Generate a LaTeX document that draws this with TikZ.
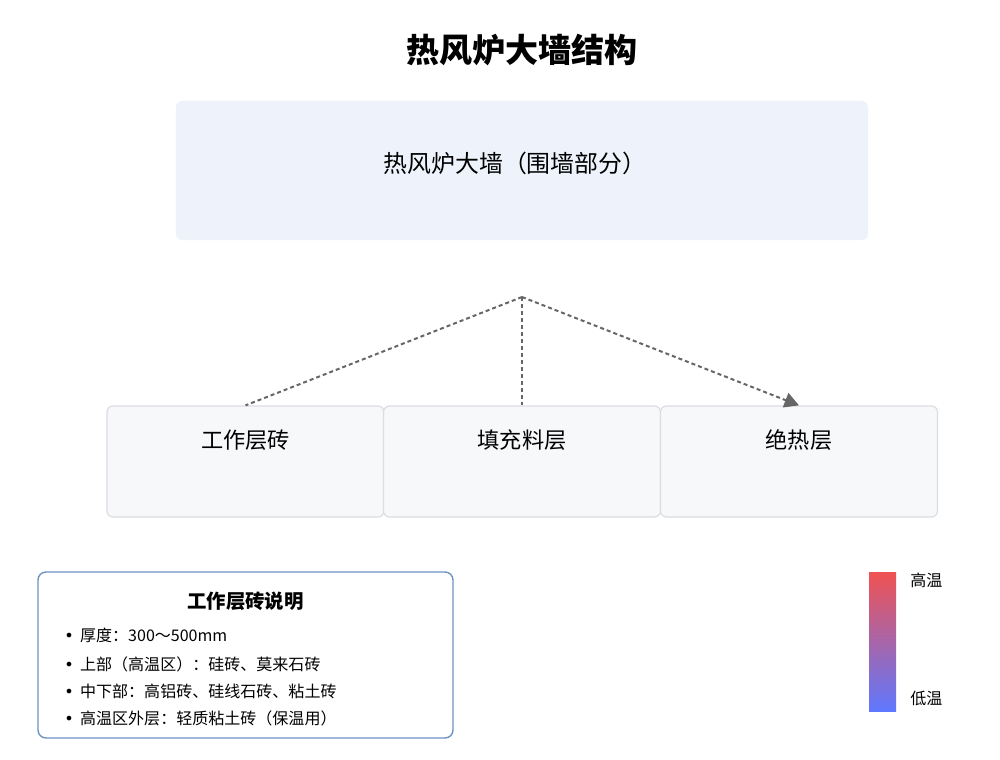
\documentclass[tikz,border=0pt]{standalone}
\usepackage{fontspec}
\setmainfont{Noto Sans CJK SC}
\newfontfamily\dotfont{DejaVu Sans}
\usetikzlibrary{arrows.meta,calc}

\definecolor{wallfill}{HTML}{EEF3FB}
\definecolor{layerfill}{HTML}{F7F8FA}
\definecolor{layerline}{HTML}{DADDE2}
\definecolor{linkgray}{HTML}{666666}
\definecolor{noteline}{HTML}{6C93C4}
\definecolor{hot}{HTML}{F05252}
\definecolor{cold}{HTML}{5F78FF}

\newcommand{\bul}{{\dotfont •}\hspace{1.6mm}}

\begin{document}
\begin{tikzpicture}[x=0.25mm,y=-0.25mm,
  layer/.style={draw=layerline,fill=layerfill,line width=0.3mm,rounded corners=1.5mm,
    minimum width=69.25mm,minimum height=27.75mm},
  link/.style={linkgray,line width=0.5mm,dash pattern=on 1mm off 0.75mm},
  txt/.style={inner sep=0pt,font=\fontsize{15.8}{18}\selectfont},
  item/.style={inner sep=0pt,anchor=west,font=\fontsize{11.4}{14}\selectfont}]
\useasboundingbox (0,0) rectangle (1000,760);

\node[inner sep=0pt,font=\fontsize{23.5}{28}\selectfont\bfseries] (TI) at (522,50) {热风炉大墙结构};

\node[fill=wallfill,rounded corners=1.5mm,minimum width=173mm,minimum height=34.75mm] (WL) at (522,170.5) {};
\node[inner sep=0pt,font=\fontsize{17}{20}\selectfont] (WT) at (515,163) {热风炉大墙（围墙部分）};

\node[layer] (WB) at (245.5,461.5) {};
\node[layer] (FL) at (522,461.5) {};
\node[layer] (IL) at (799,461.5) {};
\node[txt] at ($(WB.north)+(0,35)$) {工作层砖};
\node[txt] at ($(FL.north)+(0,35)$) {填充料层};
\node[txt] at ($(IL.north)+(0,35)$) {绝热层};

\coordinate (HB) at (522,297);
\draw[link] (HB) -- (WB.north);
\draw[link] (HB) -- (FL.north);
\draw[link,-{Triangle[length=3.6mm,width=3.8mm]}] (HB) -- (IL.north);

% legend box
\node[draw=noteline,fill=white,line width=0.35mm,rounded corners=2mm,
  minimum width=103.75mm,minimum height=41.5mm] (NT) at (245.5,655) {};
\node[inner sep=0pt,font=\fontsize{13.8}{16}\selectfont\bfseries] (NH) at (245.5,601) {工作层砖说明};
\node[item] (N1) at (64,635) {\bul 厚度：300～500mm};
\node[item] (N2) at (64,664) {\bul 上部（高温区）：硅砖、莫来石砖};
\node[item] (N3) at (64,691) {\bul 中下部：高铝砖、硅线石砖、粘土砖};
\node[item] (N4) at (64,718) {\bul 高温区外层：轻质粘土砖（保温用）};

% temperature bar
\node[top color=hot,bottom color=cold,minimum width=6.75mm,minimum height=34.75mm,inner sep=0pt] (GB) at (882.5,641.5) {};
\node[item] (HT) at (910,580) {高温};
\node[item] (LT) at (910,698) {低温};
\end{tikzpicture}
\end{document}
